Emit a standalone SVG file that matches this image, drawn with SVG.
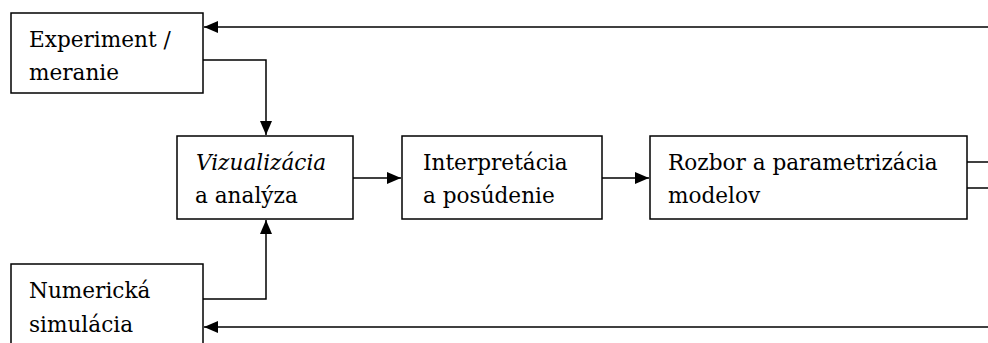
<svg xmlns="http://www.w3.org/2000/svg" width="988" height="343" viewBox="0 0 988 343">
<defs>
<marker id="ah" markerWidth="14" markerHeight="12" refX="14" refY="6" orient="auto" markerUnits="userSpaceOnUse">
<path d="M0,0 L14,6 L0,12 Z" fill="#000"/>
</marker>
<style>
.box{fill:#fff;stroke:#000;stroke-width:1.5}
.t{font-family:"DejaVu Serif","Liberation Serif",serif;font-size:21.6px;fill:#000}
.c{fill:none;stroke:#000;stroke-width:1.5}
</style>
</defs>
<rect width="988" height="343" fill="#fff"/>
<g id="connectors">
<path class="c" d="M988,27 L204,27" marker-end="url(#ah)"/>
<path class="c" d="M203,60 L266,60 L266,135" marker-end="url(#ah)"/>
<path class="c" d="M203,299 L266,299 L266,220" marker-end="url(#ah)"/>
<path class="c" d="M353,178 L401,178" marker-end="url(#ah)"/>
<path class="c" d="M602,178 L649,178" marker-end="url(#ah)"/>
<path class="c" d="M967,162 L988,162"/>
<path class="c" d="M967,188 L988,188"/>
<path class="c" d="M988,327 L204,327" marker-end="url(#ah)"/>
</g>
<g id="experiment">
<rect class="box" x="11" y="13" width="192" height="80"/>
<text class="t" x="29" y="47">Experiment /</text>
<text class="t" x="29" y="80">meranie</text>
</g>
<g id="vizualizacia">
<rect class="box" x="177" y="136" width="176" height="83"/>
<text class="t" x="196" y="170"><tspan font-style="italic">Vizualizácia</tspan></text>
<text class="t" x="195" y="203">a analýza</text>
</g>
<g id="interpretacia">
<rect class="box" x="402" y="136" width="200" height="83"/>
<text class="t" x="423" y="170">Interpretácia</text>
<text class="t" x="423" y="203">a posúdenie</text>
</g>
<g id="rozbor">
<rect class="box" x="650" y="136" width="317" height="83"/>
<text class="t" x="668" y="170">Rozbor a parametrizácia</text>
<text class="t" x="668" y="203">modelov</text>
</g>
<g id="simulacia">
<rect class="box" x="11" y="264" width="192" height="90"/>
<text class="t" x="29" y="298">Numerická</text>
<text class="t" x="29" y="332">simulácia</text>
</g>
</svg>
